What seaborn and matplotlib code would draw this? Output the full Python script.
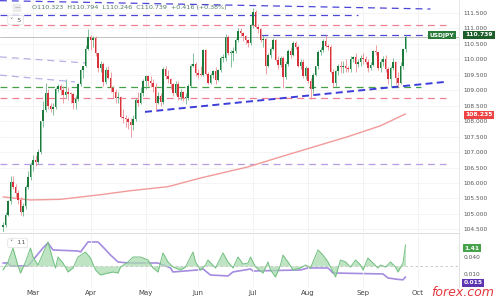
import numpy as np
import pandas as pd
import matplotlib
matplotlib.use("Agg")
import matplotlib.pyplot as plt
import seaborn as sns

# ---------------- data (USD/JPY daily, 11 Feb - 24 Sep) ----------------
opens = [104.57,104.64,104.95,105.41,106.03,105.87,105.69,105.44,105.06,105.25,105.87,106.20,
         106.57,106.75,106.68,107.00,107.99,108.35,108.90,108.50,108.40,108.45,109.04,109.13,109.01,108.84,108.95,108.88,108.87,108.60,108.71,109.20,109.65,109.80,110.35,
         110.72,110.63,110.70,110.19,109.72,109.85,109.27,109.66,109.39,109.07,108.94,108.74,108.78,108.15,108.10,108.08,107.97,107.88,108.08,108.70,108.60,108.92,
         109.31,109.45,109.30,109.25,109.09,108.60,108.80,108.62,109.68,109.47,109.35,109.21,108.90,109.20,108.77,108.95,108.75,108.76,109.15,109.80,109.85,
         109.55,109.50,109.49,110.29,109.54,109.24,109.49,109.62,109.32,109.67,110.06,110.06,110.71,110.21,110.21,110.27,110.64,110.92,110.86,110.77,110.62,110.53,
         111.10,111.53,111.05,110.97,110.63,110.65,109.80,110.14,110.35,110.62,109.98,109.81,110.06,109.44,109.85,110.28,110.15,110.54,110.39,109.80,109.91,109.46,
         109.71,109.30,109.05,109.48,109.77,110.25,110.31,110.59,110.42,110.40,109.58,109.24,109.62,109.77,109.75,109.78,109.72,109.68,110.01,110.07,109.84,109.90,
         110.03,110.02,109.93,109.71,109.83,110.26,110.25,109.71,109.93,110.00,109.68,109.38,109.71,109.93,109.41,109.22,109.79,110.323]
highs = [104.75,105.07,105.45,106.22,106.22,105.97,105.76,105.55,105.35,105.95,106.40,106.69,
         106.90,106.90,107.10,108.00,108.64,109.24,109.05,108.60,108.60,109.10,109.20,109.20,109.13,109.36,109.10,108.95,108.90,108.85,109.25,109.70,109.80,110.45,110.97,
         110.80,110.75,110.75,110.20,109.95,109.90,109.75,109.80,109.60,109.15,109.05,108.95,108.80,108.40,108.20,108.15,108.10,108.20,108.75,108.95,109.10,109.35,
         109.50,109.50,109.45,109.35,109.25,108.95,108.90,109.75,109.80,109.65,109.40,109.25,109.30,109.30,109.05,108.99,108.90,109.20,109.85,110.20,109.90,
         109.70,109.80,110.33,110.35,109.60,109.55,109.65,109.75,109.70,110.10,110.16,110.82,110.80,110.30,110.40,110.70,111.00,111.00,110.90,110.80,110.65,111.15,
         111.66,111.60,111.15,111.00,110.80,110.70,110.20,110.40,110.70,110.65,110.10,110.10,110.10,109.95,110.35,110.40,110.60,110.60,110.45,110.00,110.00,109.80,
         109.75,109.40,109.55,109.80,110.30,110.40,110.65,110.80,110.50,110.45,109.70,109.65,109.85,109.95,109.95,110.00,109.80,110.10,110.10,110.20,110.00,110.15,
         110.20,110.10,110.00,109.90,110.30,110.45,110.25,110.00,110.10,110.15,109.75,109.80,110.05,109.95,109.60,109.90,110.35,110.794]
lows = [104.41,104.56,104.92,105.31,105.80,105.55,105.33,104.95,104.92,105.16,105.82,106.10,
        106.40,106.55,106.60,106.95,107.80,108.30,108.40,108.30,108.20,108.40,108.95,108.85,108.60,108.75,108.70,108.60,108.40,108.40,108.65,109.15,109.40,109.75,110.30,
        110.29,110.40,110.10,109.60,109.60,109.15,109.20,109.35,108.95,108.75,108.60,108.60,108.10,107.95,107.80,107.75,107.48,107.70,108.00,108.50,108.55,108.80,
        109.05,109.15,109.10,108.95,108.34,108.55,108.50,108.55,109.35,109.25,109.05,108.80,108.85,108.70,108.70,108.65,108.56,108.70,109.10,109.75,109.45,
        109.40,109.45,109.45,109.50,109.20,109.20,109.40,109.20,109.30,109.60,109.90,109.95,110.15,109.75,109.95,110.20,110.55,110.75,110.60,110.50,110.40,110.48,
        111.00,111.00,110.85,110.55,110.40,109.53,109.75,110.05,110.30,109.95,109.70,109.75,109.07,109.35,109.80,110.05,110.10,110.35,109.75,109.70,109.40,109.35,
        109.25,108.72,108.90,109.45,109.70,110.15,110.25,110.40,110.30,109.55,109.10,109.15,109.50,109.55,109.55,109.60,109.60,109.60,109.90,109.60,109.75,109.80,
        109.85,109.85,109.60,109.65,109.80,110.15,109.65,109.60,109.80,109.60,109.20,109.10,109.65,109.20,109.12,109.20,109.70,110.246]
closes = [104.64,104.95,105.41,106.03,105.87,105.69,105.44,105.06,105.25,105.87,106.20,106.57,
          106.75,106.68,107.00,107.99,108.35,108.90,108.50,108.40,108.45,109.04,109.13,109.01,108.84,108.95,108.88,108.87,108.60,108.71,109.20,109.65,109.80,110.35,110.72,
          110.63,110.70,110.19,109.72,109.85,109.27,109.66,109.39,109.07,108.94,108.74,108.78,108.15,108.10,108.08,107.97,107.88,108.08,108.70,108.60,108.92,109.31,
          109.45,109.30,109.25,109.09,108.60,108.80,108.62,109.68,109.47,109.35,109.21,108.90,109.20,108.77,108.95,108.75,108.76,109.15,109.80,109.85,109.55,
          109.50,109.49,110.29,109.54,109.24,109.49,109.62,109.32,109.67,110.06,110.06,110.71,110.21,110.21,110.27,110.64,110.92,110.86,110.77,110.62,110.53,111.10,
          111.53,111.05,110.97,110.63,110.65,109.80,110.14,110.35,110.62,109.98,109.81,110.06,109.44,109.85,110.28,110.15,110.54,110.39,109.80,109.91,109.46,109.71,
          109.30,109.05,109.48,109.77,110.25,110.31,110.59,110.42,110.40,109.58,109.24,109.62,109.77,109.75,109.78,109.72,109.68,110.01,110.07,109.84,109.90,110.03,
          110.02,109.93,109.71,109.83,110.26,110.25,109.71,109.93,110.00,109.68,109.38,109.71,109.93,109.41,109.22,109.79,110.32,110.739]

month_labels = ["Mar", "Apr", "May", "Jun", "Jul", "Aug", "Sep", "Oct"]
month_start_bar = [12, 35, 57, 78, 100, 122, 144, 166]
price_ticks = [104.5, 105.0, 105.5, 106.0, 106.5, 107.0, 107.5, 108.0,
               108.5, 109.0, 109.5, 110.0, 110.5, 111.0, 111.5]

# 200-day moving average (red curve)
sma_bar = [0, 11, 23, 39, 51, 66, 79, 98, 110, 124, 138, 151, 161]
sma_vals = [105.55, 105.45, 105.47, 105.62, 105.75, 105.88, 106.16, 106.52,
            106.82, 107.16, 107.50, 107.85, 108.235]

# lower panel: green oscillator and purple line
osc_bar = [0,2,4,6,7,9,11,12,14,18,20,21,22,24,26,28,30,33,35,37,39,42,44,46,47,50,52,55,58,60,
           62,64,66,68,71,73,76,77,79,81,82,85,88,90,92,94,96,98,99,101,104,106,107,109,111,112,
           114,116,119,121,123,126,128,130,132,133,135,137,139,141,143,144,146,148,150,151,153,
           155,157,158,160,161]
osc_vals = [-0.27,0.27,1.2,0.0,-0.47,0.27,1.2,0.6,0.07,1.6,0.4,-0.13,0.6,0.2,-0.4,-0.13,0.6,0.93,
            0.53,-0.27,-0.6,-0.47,-0.4,-0.47,-0.07,0.27,0.6,0.6,0.4,-0.13,-0.4,0.87,0.27,-0.07,-0.27,
            -0.07,0.93,0.27,-0.27,0.07,0.4,-0.13,0.87,0.27,-0.13,0.6,0.13,0.2,0.6,-0.07,-0.47,0.27,
            -0.27,-0.73,0.07,0.73,0.27,-0.27,-0.13,0.07,-0.13,1.07,0.73,0.27,-0.4,-0.73,0.4,0.27,
            -0.07,0.4,0.07,-0.27,0.53,0.2,-0.13,0.07,-0.07,0.27,-0.07,-0.4,0.2,1.41]
vol_bar = [0,2,3,10,12,16,18,20,30,31,34,38,40,43,46,50,62,67,68,78,80,83,90,92,99,100,119,122,
           130,132,152,154,158,160,161]
vol_vals = [0.0325,0.0325,0.0288,0.0288,0.0363,0.0513,0.0575,0.0488,0.0475,0.0463,0.0588,0.0588,
            0.0525,0.0425,0.0338,0.0325,0.0325,0.0263,0.0213,0.0238,0.025,0.0175,0.0163,0.0213,
            0.025,0.0225,0.0238,0.0263,0.0263,0.02,0.0188,0.0138,0.012,0.0115,0.015]

# drawn levels / trendlines (price values)
pink_levels = [111.10, 108.75]
green_level = 109.105
lavender_level = 106.61
upper_blue_level = 111.42
resist_blue_level = 110.78
last_close = 110.739
top_trend = ([-1.2, 171.0], [111.90, 111.63])
support_trend = ([56.8, 176.8], [108.30, 109.27])
fade_trend_a = ([-1.2, 33.6], [110.08, 109.88])
fade_trend_b = ([-1.2, 28.8], [109.49, 109.27])

# ---------------- figure ----------------
sns.set_theme(style="white")
plt.rcParams["font.family"] = ["DejaVu Sans"]

W, H = 500, 300
fig = plt.figure(figsize=(5, 3), dpi=100)
fig.patch.set_facecolor("white")
ax = fig.add_axes([0, 68 / H, 459 / W, 232 / H])
axl = fig.add_axes([0, 13 / H, 459 / W, 54 / H], sharex=ax)
axp = axl.twinx()

XMIN, XMAX = -1.2, 182.4
ax.set_xlim(XMIN, XMAX)
ax.set_ylim(104.413, 111.921)

df = pd.DataFrame({"bar": np.arange(len(closes)), "open": opens, "high": highs,
                   "low": lows, "close": closes})
up = df["close"] >= df["open"]
body_col = np.where(up, "#1c7a3d", "#d6333a")
wick_col = np.where(up, "#6cb88a", "#ef8f95")

# grid
for b in month_start_bar:
    ax.axvline(b, color="#f1f1f1", lw=0.6, zorder=0)
    axl.axvline(b, color="#f1f1f1", lw=0.6, zorder=0)
for p in price_ticks:
    ax.axhline(p, color="#f3f3f3", lw=0.6, zorder=0)

# level lines
dash = (0, (5.5, 4))
ax.axhline(last_close, color="#a8a8a8", lw=0.5, zorder=1)
ax.plot(*top_trend, color="#4b45d8", lw=0.9, ls=dash, zorder=2)
ax.plot([XMIN, 142], [upper_blue_level] * 2, color="#4b45d8", lw=0.9, ls=dash, zorder=2)
ax.plot([XMIN, 177], [pink_levels[0]] * 2, color="#ef7f92", lw=0.9, ls=dash, zorder=2)
ax.plot([103, 171], [resist_blue_level] * 2, color="#4b45d8", lw=0.9, ls=dash, zorder=2)
ax.plot(*fade_trend_a, color="#b7b0e6", lw=0.9, ls=dash, zorder=2)
ax.plot(*fade_trend_b, color="#b7b0e6", lw=0.9, ls=dash, zorder=2)
ax.plot([XMIN, 167], [green_level] * 2, color="#43a047", lw=0.9, ls=dash, zorder=2)
ax.plot([XMIN, 177], [pink_levels[1]] * 2, color="#ef7f92", lw=0.9, ls=dash, zorder=2)
ax.plot([XMIN, 177], [lavender_level] * 2, color="#b59de0", lw=0.9, ls=dash, zorder=2)
ax.plot(*support_trend, color="#3d3ddc", lw=1.4, ls=(0, (3.6, 2.2)), zorder=2)

# moving average
sns.lineplot(x=sma_bar, y=sma_vals, ax=ax, color="#f29a9a", lw=1.0, zorder=3)

# candles
ax.vlines(df["bar"], df["low"], df["high"], colors=wick_col, lw=0.6, zorder=4)
body_lo = np.minimum(df["open"], df["close"])
body_h = np.maximum(np.abs(df["close"] - df["open"]), 0.03)
ax.bar(df["bar"], body_h, bottom=body_lo, width=0.75, color=body_col, lw=0, zorder=5)

# main axis styling
ax.yaxis.tick_right()
ax.set_yticks(price_ticks)
ax.set_yticklabels([f"{p:.3f}" for p in price_ticks])
ax.tick_params(axis="y", length=0, pad=3.5, labelsize=4.2, labelcolor="#555555")
ax.tick_params(axis="x", length=0, labelbottom=False)
for s in ["top", "left", "bottom"]:
    ax.spines[s].set_visible(False)
ax.spines["right"].set_color("#e3e3e3")
ax.spines["right"].set_linewidth(0.6)

# lower panel
axl.set_zorder(2)
axl.patch.set_visible(False)
axp.set_zorder(1)
axl.set_ylim(-1.4, 2.2)
axp.set_ylim(0.0025, 0.070)
axl.axhline(0, color="#c4c4c4", lw=0.6, ls=(0, (3, 3)))
sns.lineplot(x=vol_bar, y=vol_vals, ax=axp, color="#a58ce0", lw=1.2)
axl.fill_between(osc_bar, 0, osc_vals, color="#a9dbb0", alpha=0.75, lw=0)
sns.lineplot(x=osc_bar, y=osc_vals, ax=axl, color="#6fbf7e", lw=0.7)
axl.set_yticks([])
axl.set_ylabel("")
axp.set_ylabel("")
axp.set_yticks([0.0185, 0.040])
axp.set_yticklabels(["0.010", "0.040"])
axp.tick_params(axis="y", length=0, pad=3.5, labelsize=4.2, labelcolor="#555555")
axl.set_xticks(month_start_bar)
axl.set_xticklabels(month_labels)
axl.tick_params(axis="x", length=0, pad=2.5, labelsize=5, labelcolor="#444444")
for a in (axl, axp):
    for s in ["left", "bottom"]:
        a.spines[s].set_visible(False)
    a.spines["top"].set_color("#dcdcdc")
    a.spines["top"].set_linewidth(0.6)
    a.spines["right"].set_color("#e3e3e3")
    a.spines["right"].set_linewidth(0.6)
ax.set_xlim(XMIN, XMAX)

# header text & legend boxes
fig.text(17 / W, 1 - 8 / H, "—", fontsize=4, color="#777777", ha="center", va="center",
         bbox=dict(boxstyle="round,pad=0.3", fc="#ececec", ec="none"))
fig.text(32 / W, 1 - 8 / H, "O110.323  H110.794  L110.246  C110.739  +0.416 (+0.38%)",
         fontsize=4.6, color="#557a66", ha="left", va="center")
fig.text(10 / W, 1 - 20 / H, "˅  5", fontsize=4.6, color="#555555", ha="left", va="center",
         bbox=dict(boxstyle="round,pad=0.35", fc="white", ec="#dddddd", lw=0.5))
fig.text(10 / W, 1 - 243 / H, "˅  11", fontsize=4.6, color="#555555", ha="left", va="center",
         bbox=dict(boxstyle="round,pad=0.35", fc="white", ec="#dddddd", lw=0.5))

# right-side value tags
def tag(xc, yc, txt, fc, fs=4.3, pad=0.3):
    fig.text(xc / W, 1 - yc / H, txt, fontsize=fs, color="white", weight="bold",
             ha="center", va="center",
             bbox=dict(boxstyle=f"square,pad={pad}", fc=fc, ec="none"))

tag(442, 35, "USDJPY", "#2a7a3a")
tag(479, 35, "110.739", "#1d5e2b")
tag(479, 115, "108.235", "#ef4343")
tag(472, 248, "1.41", "#47a34b")
tag(473, 283, "0.015", "#5e35b1", pad=0.22)

fig.text(463 / W, 1 - 293 / H, "forex.com", fontsize=9, style="italic", color="#e3363d",
         ha="center", va="center")

fig.savefig("out.png", dpi=100, facecolor="white")
